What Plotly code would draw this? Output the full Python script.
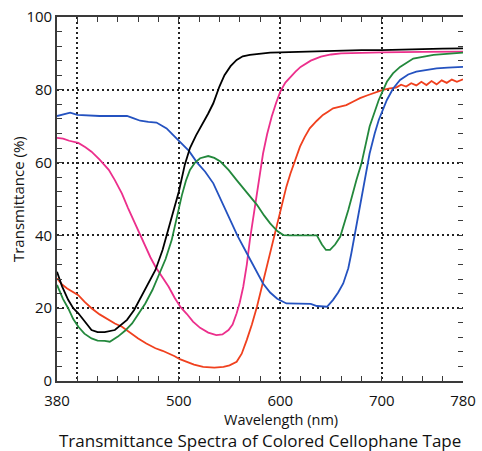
import plotly.graph_objects as go

# ---- data ----
black_x = [380, 385, 391, 396, 401, 408, 414, 420, 427, 437, 443, 449, 456, 463, 470, 477, 484, 490, 496, 500,
           506, 511, 517, 524, 529, 534, 540, 545, 551, 557, 563, 570, 580, 590, 600, 620, 640, 660, 680, 700,
           720, 740, 760, 780]
black_y = [30, 26, 22.3, 20, 18.6, 16, 14, 13.4, 13.4, 14, 15.3, 16.8, 19.5, 23.2, 26.5, 30.5, 36, 42, 48, 52,
           59.5, 64, 67.5, 70.8, 73.5, 76.3, 80.9, 84, 86.5, 88.2, 89.2, 89.6, 90, 90.2, 90.3, 90.5, 90.7, 90.8, 90.9, 90.9,
           91.1, 91.2, 91.3, 91.4]

green_x = [380, 386, 391, 396, 401, 407, 414, 420, 427, 432, 440, 447, 454, 460, 467, 474, 480, 487, 493, 498,
           503, 507, 511, 516, 521, 529, 535, 541, 549, 557, 567, 577, 584, 590, 597, 603, 610, 636, 641, 645,
           649, 654, 659, 667, 675, 680, 688, 697, 705, 711, 718, 731, 751, 780]
green_y = [26.4, 22.5, 20, 17, 14.9, 13, 11.7, 11.1, 11, 10.8, 12.2, 13.8, 15.8, 18.5, 21.3, 25, 28.7, 33.5, 38.7, 45,
           51, 55, 58, 60, 61.2, 61.8, 61.3, 60.3, 58, 55.2, 51.8, 48.4, 45.5, 43.3, 41.2, 40.1, 40, 40, 37.5, 36,
           36, 37.5, 39.6, 47, 55.2, 59.8, 69.9, 77.2, 82.2, 84.5, 86.3, 88.6, 89.6, 90.2]

blue_x = [380, 386, 393, 400, 410, 422, 440, 449, 455, 462, 470, 478, 483, 488, 495, 501, 510, 518, 526, 534,
          542, 550, 558, 567, 575, 583, 590, 597, 606, 620, 630, 636, 646, 652, 657, 662, 667, 670, 675, 682,
          688, 693, 697, 705, 711, 718, 726, 734, 744, 754, 765, 780]
blue_y = [72.8, 73.3, 73.7, 73.1, 72.9, 72.8, 72.8, 72.8, 72.2, 71.5, 71.2, 71.0, 70.2, 69.4, 67.4, 65.7, 63.2, 60, 57.5, 54.3,
          49.5, 45, 39.8, 35.1, 30.8, 26.8, 24.3, 22.6, 21.3, 21.3, 21.2, 20.6, 20.4, 22.3, 24.3, 26.8, 31, 35.1, 42.4, 53.4,
          62.5, 68, 71.7, 77.2, 80.3, 82.7, 84.2, 85, 85.5, 85.9, 86.1, 86.3]

pink_x = [380, 386, 392, 401, 408, 414, 422, 431, 437, 444, 450, 457, 462, 467, 472, 477, 484, 490, 496, 502,
          508, 514, 521, 529, 537, 543, 549, 553, 557, 560, 563.5, 567, 570, 573.5, 577, 580, 583, 587, 591.5, 596,
          600, 605, 610, 615, 620, 630, 640, 650, 660, 680, 700, 740, 780]
pink_y = [66.8, 66.6, 66, 65.4, 64.2, 63, 60.8, 58, 55.2, 51.5, 47.5, 43.3, 40, 36.9, 34, 31.4, 28.3, 25.9, 22.8, 20.2,
          18.4, 16.3, 14.6, 13.3, 12.6, 12.8, 14, 15.5, 18.6, 21.5, 25.9, 32, 38.7, 45, 51.5, 57.5, 62.5, 67.8, 72.6, 76.5,
          79.5, 82, 83.6, 85, 86.3, 88, 89.1, 89.7, 90, 90.2, 90.3, 90.4, 90.5]

red_x = [380, 385, 390, 395, 401, 407, 414, 422, 431, 437, 444, 452, 460, 468, 477, 484, 490, 496, 501, 507,
         515, 524, 535, 544, 550, 557, 562, 567, 572, 577, 582, 587, 592, 596.5, 601, 606, 610, 615, 619.4, 624,
         629, 636, 642, 647, 652, 658, 665, 672, 678.5, 686, 695, 701, 708, 714, 719, 724, 729, 734, 739, 744,
         749, 754, 759, 764, 769, 774, 780]
red_y = [28.2, 26.5, 25.4, 24.5, 23.6, 21.8, 20, 18.3, 16.8, 15.8, 14.9, 13.2, 11.7, 10.3, 9, 8.3, 7.6, 6.8, 6, 5.3,
         4.5, 3.9, 3.7, 3.9, 4.3, 5.3, 7.5, 11.3, 15.5, 20.4, 26, 31.4, 37, 42.4, 47.8, 53.4, 57, 61, 64.4, 67,
         69.4, 71.5, 73.1, 74, 74.9, 75.3, 75.8, 76.8, 77.7, 78.5, 79.5, 80, 80.4, 80.6, 81.4, 80.9, 81.8, 81.2, 82.2, 81.3,
         82.4, 81.5, 82.6, 81.9, 82.8, 82.2, 82.9]

x_ticks = [380, 500, 600, 700, 780]
x_grid = [400, 500, 600, 700]
y_ticks = [0, 20, 40, 60, 80, 100]
y_grid = [20, 40, 60, 80]

FONT = "Open Sans"
AX = "#3a3a3a"
GRID = dict(showgrid=True, gridcolor="#222", gridwidth=1.5, griddash="2px,3px")

fig = go.Figure()
series = [
    (red_x, red_y, "#f0401e"),
    (pink_x, pink_y, "#ec2f8c"),
    (blue_x, blue_y, "#2452c0"),
    (green_x, green_y, "#23883c"),
    (black_x, black_y, "#000000"),
]
for xs, ys, c in series:
    fig.add_trace(go.Scatter(x=xs, y=ys, mode="lines", line=dict(color=c, width=1.8),
                             showlegend=False, hoverinfo="skip"))

# invisible traces to anchor helper axes (grid / right-side ticks)
fig.add_trace(go.Scatter(x=[380], y=[0], xaxis="x2", yaxis="y2", mode="markers",
                         marker=dict(opacity=0), showlegend=False, hoverinfo="skip"))
fig.add_trace(go.Scatter(x=[380], y=[0], xaxis="x", yaxis="y3", mode="markers",
                         marker=dict(opacity=0), showlegend=False, hoverinfo="skip"))

fig.update_layout(
    width=482, height=451,
    margin=dict(l=57, r=19, t=17, b=70),
    paper_bgcolor="white", plot_bgcolor="white",
    font=dict(family=FONT, size=15, color="#111"),
    xaxis=dict(range=[380, 780], tickmode="array", tickvals=x_ticks, automargin=False,
               showgrid=False, zeroline=False, ticklabeloverflow="allow",
               showline=True, linecolor=AX, linewidth=1.6, mirror="allticks",
               ticks="inside", ticklen=5, tickcolor=AX, tickwidth=1.3, ticklabelstandoff=5,
               minor=dict(dtick=20, tick0=380, ticks="inside", ticklen=5, tickcolor=AX, tickwidth=1.3),
               tickfont=dict(size=15), layer="above traces"),
    xaxis2=dict(range=[380, 780], overlaying="x", tickmode="array", tickvals=x_grid, automargin=False,
                showticklabels=False, ticks="", showline=False, zeroline=False, **GRID),
    yaxis=dict(range=[0, 100], tickmode="array", tickvals=y_ticks, automargin=False,
               showgrid=False, zeroline=False, ticklabeloverflow="allow",
               showline=True, linecolor=AX, linewidth=1.6,
               ticks="inside", ticklen=5, tickcolor=AX, tickwidth=1.3,
               minor=dict(dtick=4, tick0=0, ticks="inside", ticklen=5, tickcolor=AX, tickwidth=1.3),
               tickfont=dict(size=15), layer="above traces"),
    yaxis2=dict(range=[0, 100], overlaying="y", side="right", anchor="x2", automargin=False,
                tickmode="array", tickvals=list(range(0, 101, 4)),
                ticks="inside", ticklen=5, tickcolor=AX, tickwidth=1.3,
                showticklabels=False, showgrid=False, showline=False, zeroline=False),
    yaxis3=dict(range=[0, 100], overlaying="y", tickmode="array", tickvals=y_grid, automargin=False,
                showticklabels=False, ticks="", showline=False, zeroline=False, **GRID),
)

fig.add_annotation(text="Transmittance (%)", xref="paper", yref="paper", x=-0.096, y=0.5,
                   textangle=-90, xanchor="center", yanchor="middle", showarrow=False,
                   font=dict(size=15))
fig.add_annotation(text="Wavelength (nm)", xref="paper", yref="paper", x=0.552, y=-0.1058,
                   xanchor="center", yanchor="middle", showarrow=False, font=dict(size=14.5))
fig.add_annotation(text="Transmittance Spectra of Colored Cellophane Tape", xref="paper", yref="paper",
                   x=0.5, y=-0.1621, xanchor="center", yanchor="middle", showarrow=False,
                   font=dict(size=17))

# remove the page's default body margin so the figure sits at the window's top-left corner
fig.write_html("out.html", config={"displayModeBar": False},
               post_script="document.body.style.margin='0';")
